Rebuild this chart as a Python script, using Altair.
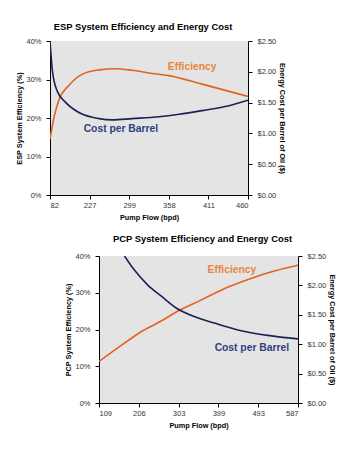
import json
import altair as alt
import pandas as pd

FONT = "Liberation Sans"
ORANGE = "#e2621f"
ORANGE_TXT = "#e8843c"
NAVY = "#1b2058"
NAVY_TXT = "#2e3f82"
PLOT_BG = "#e4e4e4"

# ---------------- ESP panel data ----------------
esp_title = "ESP System Efficiency and Energy Cost"
esp_y_title = "ESP System Efficiency (%)"
esp_x_labels = ["82", "227", "299", "358", "411", "460"]
esp_eff_pos = [0, 0.1, 0.23, 0.48, 0.82, 1.24, 1.66, 2.07, 2.5, 3.0, 3.84, 5.0]
esp_eff = [14.5, 20.1, 24.8, 28.5, 31.4, 32.5, 32.8, 32.4, 31.7, 31.0, 28.8, 25.6]
esp_cost_pos = [0, 0.06, 0.18, 0.40, 0.73, 1.24, 1.57, 2.07, 2.75, 3.26, 3.84, 4.52, 5.0]
esp_cost = [2.50, 2.02, 1.69, 1.50, 1.34, 1.24, 1.22, 1.24, 1.27, 1.31, 1.37, 1.45, 1.54]
esp_label_text = ["Efficiency", "Cost per Barrel"]
esp_label_pos = [3.59, 1.79]
esp_label_val = [33.3, 17.2]

# ---------------- PCP panel data ----------------
pcp_title = "PCP System Efficiency and Energy Cost"
pcp_y_title = "PCP System Efficiency (%)"
pcp_x_labels = ["109", "206", "303", "399", "493", "587"]
pcp_eff_pos = [0, 0.55, 1.06, 1.56, 1.93, 2.56, 3.23, 3.82, 4.4, 5.0]
pcp_eff = [11.3, 15.6, 19.4, 22.3, 24.7, 28.0, 31.5, 33.9, 35.9, 37.5]
pcp_cost_pos = [0.64, 0.89, 1.22, 1.56, 1.93, 2.39, 2.9, 3.57, 4.24, 5.0]
pcp_cost = [2.50, 2.26, 2.01, 1.82, 1.62, 1.47, 1.36, 1.23, 1.15, 1.09]
pcp_label_text = ["Efficiency", "Cost per Barrel"]
pcp_label_pos = [3.34, 3.84]
pcp_label_val = [36.2, 14.9]

x_title = "Pump Flow (bpd)"
cost_title = "Energy Cost per Barrel of Oil ($)"
eff_ticks = [0, 10, 20, 30, 40]
cost_ticks = [0, 0.5, 1.0, 1.5, 2.0, 2.5]


def panel(title, y_title, x_labels, eff_pos, eff, cost_pos, cost,
          lab_text, lab_pos, lab_val, w, h, title_offset, title_dx):
    expr = json.dumps(x_labels) + "[round(datum.value)]"
    x_enc = alt.X(
        "pos:Q",
        scale=alt.Scale(domain=[0, len(x_labels) - 1], nice=False, zero=False),
        axis=alt.Axis(values=list(range(len(x_labels))), labelExpr=expr,
                      title=x_title, tickSize=4, labelPadding=2.5,
                      titlePadding=4),
    )
    eff_df = pd.DataFrame({"pos": eff_pos, "v": eff})
    cost_df = pd.DataFrame({"pos": cost_pos, "v": cost})
    eff_line = alt.Chart(eff_df).mark_line(
        color=ORANGE, strokeWidth=1.6, interpolate="monotone", clip=True
    ).encode(
        x=x_enc,
        y=alt.Y("v:Q", scale=alt.Scale(domain=[0, 40], nice=False),
                axis=alt.Axis(values=eff_ticks, labelExpr="datum.value + '%'",
                              title=y_title, tickSize=4, labelPadding=5,
                              titlePadding=2)),
    )
    cost_line = alt.Chart(cost_df).mark_line(
        color=NAVY, strokeWidth=1.6, interpolate="monotone", clip=True
    ).encode(
        x=x_enc,
        y=alt.Y("v:Q", scale=alt.Scale(domain=[0, 2.5], nice=False),
                axis=alt.Axis(values=cost_ticks, format="$.2f", orient="right",
                              title=cost_title, tickSize=4, labelPadding=5,
                              titlePadding=2)),
    )
    layers = [eff_line, cost_line]
    for t, p, v, c in zip(lab_text, lab_pos, lab_val, [ORANGE_TXT, NAVY_TXT]):
        df = pd.DataFrame({"pos": [p], "v": [v], "t": [t]})
        layers.append(
            alt.Chart(df).mark_text(font=FONT, fontSize=10.3, fontWeight="bold",
                                    color=c).encode(
                x=x_enc,
                y=alt.Y("v:Q", scale=alt.Scale(domain=[0, 40], nice=False), axis=None),
                text="t:N",
            )
        )
    return alt.layer(*layers).resolve_scale(y="independent").properties(
        width=w, height=h,
        title=alt.TitleParams(title, font=FONT, fontSize=9.4, fontWeight="bold",
                              anchor="middle", offset=title_offset, dx=title_dx,
                              color="#000"),
        view=alt.ViewBackground(fill=PLOT_BG, stroke=None),
    )


esp = panel(esp_title, esp_y_title, esp_x_labels, esp_eff_pos, esp_eff,
            esp_cost_pos, esp_cost, esp_label_text, esp_label_pos, esp_label_val,
            198, 154, 5, -6)
pcp = panel(pcp_title, pcp_y_title, pcp_x_labels, pcp_eff_pos, pcp_eff,
            pcp_cost_pos, pcp_cost, pcp_label_text, pcp_label_pos, pcp_label_val,
            199, 147, 8, 4)

spacer = alt.Chart(pd.DataFrame({"a": [0]})).mark_point(opacity=0, size=1).encode(
    x=alt.value(0), y=alt.value(0)
).properties(width=6, height=10, view=alt.ViewBackground(fill=None, stroke=None))

chart = alt.vconcat(
    esp,
    alt.hconcat(spacer, pcp, spacing=8),
    spacing=12,
).properties(
    padding={"left": 7, "top": 13, "right": 2, "bottom": 2},
    background="white",
).configure_axis(
    labelFont=FONT, labelFontSize=7.5, labelColor="#333",
    titleFont=FONT, titleFontSize=7.3, titleFontWeight="bold", titleColor="#000",
    domainColor="#000", tickColor="#000", grid=False,
)

chart.save("out.html", embed_options={"renderer": "svg", "actions": False})
